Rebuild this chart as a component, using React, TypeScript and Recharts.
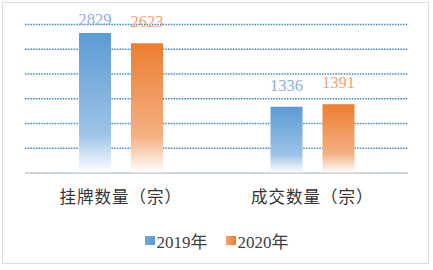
import React from "react";
import { BarChart, Bar, XAxis, YAxis, CartesianGrid, Legend, LabelList } from "recharts";

const categories = ["挂牌数量（宗）", "成交数量（宗）"];
const values2019 = [2829, 1336];
const values2020 = [2623, 1391];
const yTicks = [0, 500, 1000, 1500, 2000, 2500, 3000];
const seriesNames = ["2019年", "2020年"];

const data = categories.map((c, i) => ({ name: c, s2019: values2019[i], s2020: values2020[i] }));

const BLUE = "#5B9BD5";
const ORANGE = "#ED7D31";
const FONT = "Liberation Serif, Times New Roman, Tinos, DejaVu Serif, Noto Sans CJK SC, serif";

const makeLabel = (color: string) => (props: any) => {
  const { x, y, width, value } = props;
  const ty = Math.max(24.5, y - 16);
  return (
    <text x={x + width / 2} y={ty} textAnchor="middle" fill={color} style={{ fontFamily: FONT, fontSize: 16.5 }}>
      {value}
    </text>
  );
};

const LegendContent = () => (
  <div style={{ display: "flex", justifyContent: "center", alignItems: "center", fontFamily: FONT, fontSize: 17, color: "#404040", height: 24 }}>
    <span style={{ display: "flex", alignItems: "center", marginRight: 18 }}>
      <span style={{ width: 10, height: 9, background: "linear-gradient(90deg, #6FA8DC, #5B9BD5)", marginRight: 2 }} />
      {seriesNames[0]}
    </span>
    <span style={{ display: "flex", alignItems: "center" }}>
      <span style={{ width: 10, height: 9, background: "linear-gradient(90deg, #F4A36E, #ED7D31)", marginRight: 2 }} />
      {seriesNames[1]}
    </span>
  </div>
);

export default function App() {
  return (
    <div style={{ position: "absolute", left: 0, top: 0, width: 433, height: 270, background: "#fff" }}>
      <div style={{ position: "absolute", left: 2, top: 2, width: 427, height: 262, border: "1.5px solid #dcdcdc", boxSizing: "border-box" }} />
      <BarChart
        width={433}
        height={270}
        data={data}
        margin={{ top: 24.5, right: 25, left: 25, bottom: 18 }}
        barSize={32}
        barGap={20}
      >
        <defs>
          <linearGradient id="gBlue" x1="0" y1="0" x2="0" y2="1">
            <stop offset="0" stopColor={BLUE} />
            <stop offset="0.72" stopColor="#9DC3E6" />
            <stop offset="1" stopColor="#FFFFFF" />
          </linearGradient>
          <linearGradient id="gOrange" x1="0" y1="0" x2="0" y2="1">
            <stop offset="0" stopColor={ORANGE} />
            <stop offset="0.72" stopColor="#F4B183" />
            <stop offset="1" stopColor="#FFFFFF" />
          </linearGradient>
        </defs>
        <CartesianGrid vertical={false} stroke="#3F86C6" strokeWidth={1.3} strokeDasharray="1.5 1.2" />
        <XAxis
          dataKey="name"
          axisLine={{ stroke: "#D9D9D9", strokeWidth: 1.5 }}
          tickLine={false}
          tickSize={0}
          tickMargin={18}
          height={55}
          tick={{ fill: "#333333", fontSize: 16.5, fontFamily: FONT, letterSpacing: 1 }}
        />
        <YAxis hide domain={[0, 3000]} ticks={yTicks} width={0} />
        <Legend verticalAlign="bottom" height={24} content={<LegendContent />} />
        <Bar dataKey="s2019" name={seriesNames[0]} fill="url(#gBlue)" isAnimationActive={false}>
          <LabelList dataKey="s2019" content={makeLabel("#8AB0DE")} />
        </Bar>
        <Bar dataKey="s2020" name={seriesNames[1]} fill="url(#gOrange)" isAnimationActive={false}>
          <LabelList dataKey="s2020" content={makeLabel("#F2A46F")} />
        </Bar>
      </BarChart>
    </div>
  );
}
